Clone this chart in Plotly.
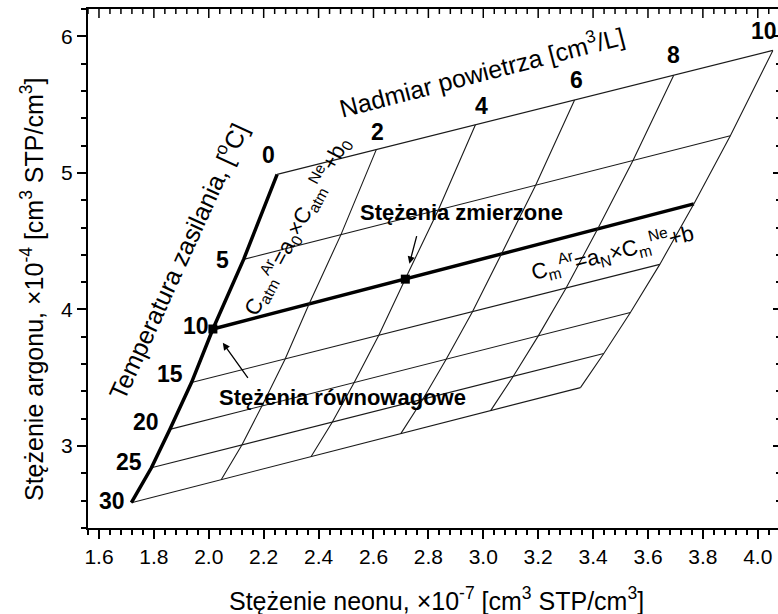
import plotly.graph_objects as go

# Nomogram: equilibrium Ne/Ar concentrations vs. recharge temperature,
# displaced by excess air (0-10 cm3/L).
temps = [0, 5, 10, 15, 20, 25, 30]                          # degC
excess_air = [0, 2, 4, 6, 8, 10]                            # cm3/L
ne_eq = [2.249, 2.127, 2.015, 1.937, 1.858, 1.791, 1.718]   # x1e-7
ar_eq = [4.989, 4.367, 3.857, 3.465, 3.122, 2.841, 2.585]   # x1e-4
ne_ea10 = [4.055, 3.900, 3.767, 3.643, 3.536, 3.439, 3.354]  # at 10 cm3/L
ar_ea10 = [5.897, 5.272, 4.773, 4.330, 3.978, 3.678, 3.428]
measured_ne = [2.716]
measured_ar = [4.222]
measured_temp = 10

x_ticks = [1.6, 1.8, 2.0, 2.2, 2.4, 2.6, 2.8, 3.0, 3.2, 3.4, 3.6, 3.8, 4.0]
y_ticks = [3, 4, 5, 6]

FONT = "Liberation Sans, Arial, sans-serif"
A_MAX = excess_air[-1]


def node(i, a):
    f = a / A_MAX
    return (ne_eq[i] + (ne_ea10[i] - ne_eq[i]) * f,
            ar_eq[i] + (ar_ea10[i] - ar_eq[i]) * f)


fig = go.Figure()
thin = dict(color="#1a1a1a", width=1.1)
thick = dict(color="black", width=3.5)

# constant-temperature lines
for i, t in enumerate(temps):
    xs, ys = zip(node(i, excess_air[0]), node(i, excess_air[-1]))
    fig.add_trace(go.Scatter(x=xs, y=ys, mode="lines",
                             line=thick if t == measured_temp else thin,
                             hoverinfo="skip", showlegend=False))

# constant excess-air lines
for a in excess_air[1:]:
    pts = [node(i, a) for i in range(len(temps))]
    fig.add_trace(go.Scatter(x=[p[0] for p in pts], y=[p[1] for p in pts],
                             mode="lines", line=thin, hoverinfo="skip",
                             showlegend=False))

# equilibrium (zero excess air) curve
fig.add_trace(go.Scatter(x=ne_eq, y=ar_eq, mode="lines", line=thick,
                         hoverinfo="skip", showlegend=False))

# equilibrium and measured points
i10 = temps.index(measured_temp)
fig.add_trace(go.Scatter(x=[ne_eq[i10]] + measured_ne,
                         y=[ar_eq[i10]] + measured_ar, mode="markers",
                         marker=dict(symbol="square", size=9, color="black"),
                         hoverinfo="skip", showlegend=False))

x_range = [1.56, 1.56 + 690 / 274.5]
y_range = [2.4, 6.2]
PLOT_H = 519  # px height of the plotting area
y_per_px = (y_range[1] - y_range[0]) / PLOT_H

# empty trace so the right-hand tick axis gets drawn
fig.add_trace(go.Scatter(x=[x_range[0]], y=[y_range[0]], xaxis="x",
                         yaxis="y2", mode="markers",
                         marker=dict(opacity=0, size=1),
                         hoverinfo="skip", showlegend=False))

# inward ticks along the top frame edge
x_minor_step = 0.04
n_minor = int(round((x_range[1] - x_range[0]) / x_minor_step)) + 1
x_minor = [round(x_range[0] + k * x_minor_step, 2) for k in range(n_minor)]
tx, ty = [], []
for v in x_minor:
    major = any(abs(v - t) < 1e-6 for t in x_ticks)
    length = (9 if major else 5) * y_per_px
    tx += [v, v, None]
    ty += [y_range[1], y_range[1] - length, None]
fig.add_trace(go.Scatter(x=tx, y=ty, mode="lines",
                         line=dict(color="black", width=1.5),
                         hoverinfo="skip", showlegend=False))

ann = []
bold = dict(family=FONT, size=22, color="black", weight="bold")
digits = dict(family=FONT, size=23, color="black", weight="bold")

# temperature scale labels
t_shift = [(0, 19), (-13, -1), (-2, 3), (-6, 9), (-9, 7), (-7, 6), (-4, 2)]
for i, t in enumerate(temps):
    ann.append(dict(x=ne_eq[i], y=ar_eq[i], text=str(t), showarrow=False,
                    xanchor="right", yanchor="middle", font=digits,
                    xshift=t_shift[i][0], yshift=t_shift[i][1]))

# excess-air scale labels along the 0 degC line
a_shift = [(1, 18), (6, 19), (2, 20), (0, 20), (-9, 19)]
for k, a in enumerate(excess_air[1:]):
    x0, y0 = node(0, a)
    ann.append(dict(x=x0, y=y0, text=str(a), showarrow=False,
                    xanchor="center", yanchor="middle", font=digits,
                    xshift=a_shift[k][0], yshift=a_shift[k][1]))

reg = dict(family=FONT, size=25, color="black")
ann.append(dict(xref="paper", yref="paper", x=(177 - 88) / 690,
                y=(528 - 261) / 519, text="Temperatura zasilania, [<sup>o</sup>C]",
                textangle=-65.5, showarrow=False, font=reg,
                xanchor="center", yanchor="middle"))
ann.append(dict(xref="paper", yref="paper", x=(481 - 88) / 690,
                y=(528 - 71) / 519, text="Nadmiar powietrza [cm<sup>3</sup>/L]",
                textangle=-14.5, showarrow=False, font=reg,
                xanchor="center", yanchor="middle"))

formula = dict(family=FONT, size=22, color="black")
ann.append(dict(xref="paper", yref="paper", x=(296 - 88) / 690,
                y=(528 - 226) / 519,
                text="C<sub>atm</sub><sup>Ar</sup>=a<sub>0</sub>×C<sub>atm</sub><sup>Ne</sup>+b<sub>0</sub>",
                textangle=-62, showarrow=False, font=formula,
                xanchor="center", yanchor="middle"))
ann.append(dict(xref="paper", yref="paper", x=(612 - 88) / 690,
                y=(528 - 252) / 519,
                text="C<sub>m</sub><sup>Ar</sup>=a<sub>N</sub>×C<sub>m</sub><sup>Ne</sup>+b",
                textangle=-14, showarrow=False, font=formula,
                xanchor="center", yanchor="middle"))

# point labels with arrows
ann.append(dict(xref="paper", yref="paper", x=(461 - 88) / 690,
                y=(528 - 212) / 519, text="Stężenia zmierzone",
                showarrow=False, font=bold, xanchor="center", yanchor="middle"))
ann.append(dict(x=measured_ne[0], y=measured_ar[0], text=" ", showarrow=True,
                ax=14, ay=-53, arrowhead=2, arrowsize=1.1, arrowwidth=1.3,
                arrowcolor="black", standoff=16))
ann.append(dict(xref="paper", yref="paper", x=(342 - 88) / 690,
                y=(528 - 398) / 519, text="Stężenia równowagowe",
                showarrow=False, font=bold, xanchor="center", yanchor="middle"))
ann.append(dict(x=ne_eq[i10], y=ar_eq[i10], text=" ", showarrow=True,
                ax=38, ay=53, arrowhead=2, arrowsize=1.1, arrowwidth=1.3,
                arrowcolor="black", standoff=17))

# axis titles
title_font = dict(family=FONT, size=25, color="black")
ann.append(dict(xref="paper", yref="paper", x=(436 - 88) / 690, y=0,
                yshift=-71, showarrow=False, font=title_font,
                xanchor="center", yanchor="middle",
                text="Stężenie neonu, ×10<sup>-7</sup> [cm<sup>3</sup> STP/cm<sup>3</sup>]"))
ann.append(dict(xref="paper", yref="paper", x=0, xshift=-56,
                y=(528 - 290) / 519, textangle=-90, showarrow=False,
                font=title_font, xanchor="center", yanchor="middle",
                text="Stężenie argonu, ×10<sup>-4</sup> [cm<sup>3</sup> STP/cm<sup>3</sup>]"))

tick_font = dict(family=FONT, size=21, color="black")

fig.update_layout(
    width=778, height=614,
    margin=dict(l=88, r=0, t=9, b=86),
    plot_bgcolor="white", paper_bgcolor="white",
    annotations=ann,
    xaxis=dict(range=x_range, tickvals=x_ticks,
               ticktext=[f"{v:.1f}" for v in x_ticks],
               ticks="outside", ticklen=9, tickwidth=1.5, tickcolor="black",
               minor=dict(dtick=x_minor_step, tick0=x_range[0],
                          ticks="outside", ticklen=5,
                          tickwidth=1.5, tickcolor="black"),
               showline=True, mirror=True, linecolor="black", linewidth=2,
               showgrid=False, zeroline=False, tickfont=tick_font),
    yaxis=dict(range=y_range, tickvals=y_ticks, ticksuffix="\u00a0\u2009",
               ticks="outside", ticklen=9, tickwidth=1.5, tickcolor="black",
               minor=dict(dtick=0.2, tick0=2.4, ticks="outside", ticklen=5,
                          tickwidth=1.5, tickcolor="black"),
               showline=True, linecolor="black", linewidth=2,
               showgrid=False, zeroline=False, tickfont=tick_font),
    yaxis2=dict(range=y_range, overlaying="y", side="right", anchor="x",
                tickvals=y_ticks, showticklabels=False,
                ticks="inside", ticklen=5, tickwidth=1.5, tickcolor="black",
                minor=dict(dtick=0.2, tick0=2.4, ticks="inside", ticklen=2,
                           tickwidth=1.5, tickcolor="black"),
                showline=False, showgrid=False, zeroline=False),
)

fig.write_html("out.html")
